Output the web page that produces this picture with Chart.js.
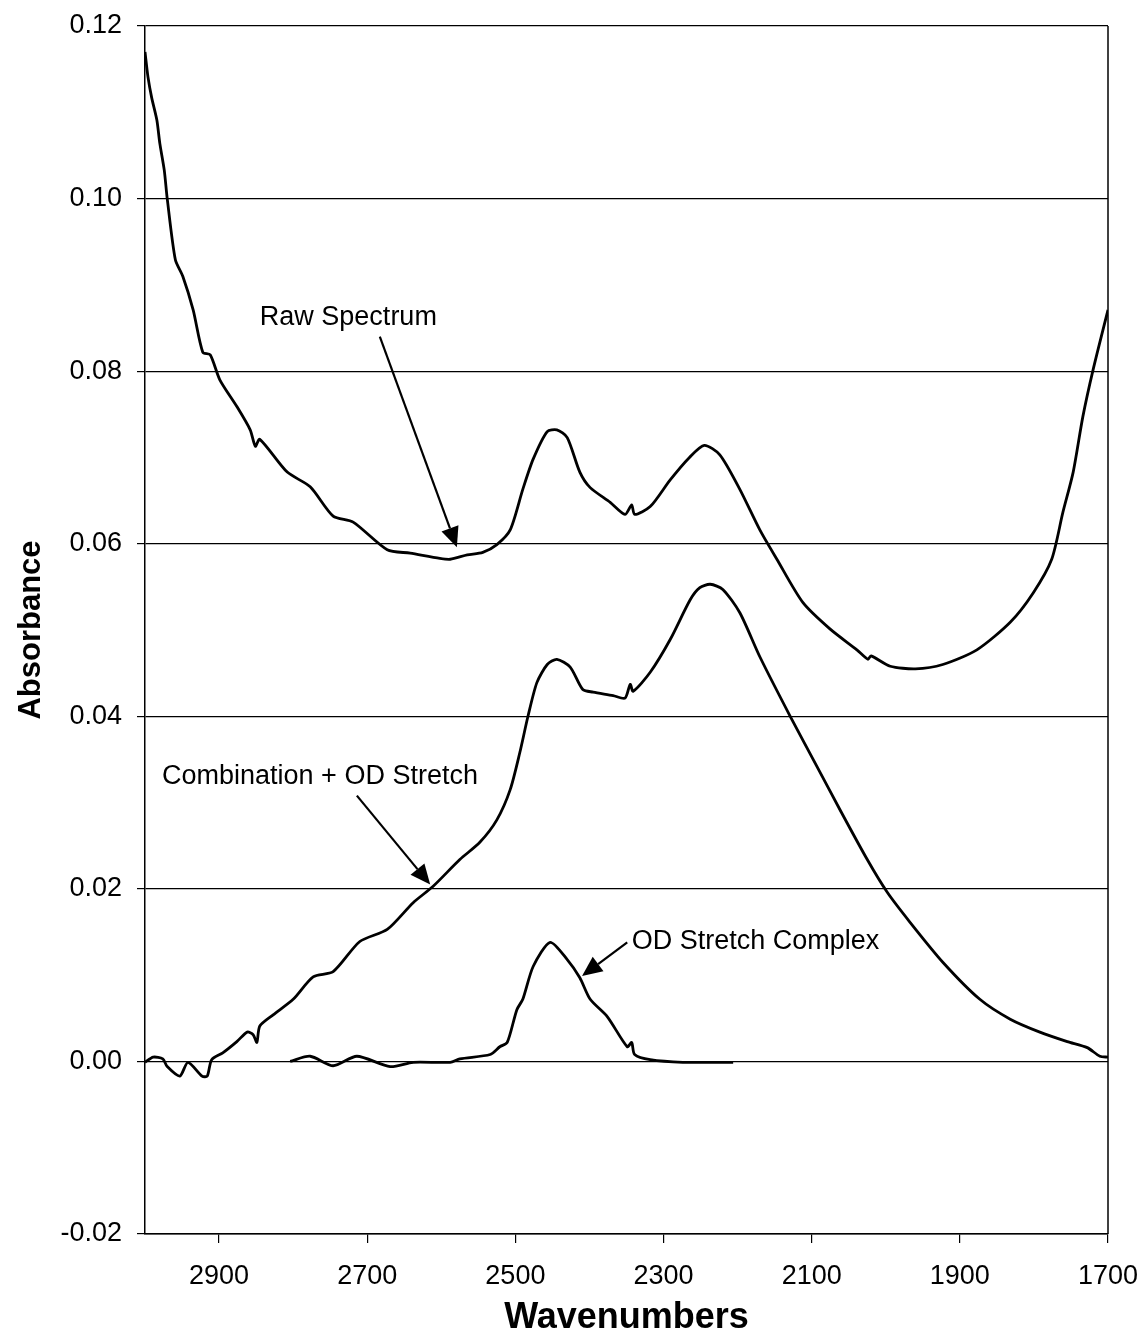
<!DOCTYPE html>
<html>
<head>
<meta charset="utf-8">
<script src="https://cdn.jsdelivr.net/npm/chart.js@4.4.1/dist/chart.umd.min.js"></script>
<style>
  html, body { margin: 0; padding: 0; background: #fff; }
  canvas { display: block; }
</style>
</head>
<body>
<canvas id="chart1" width="1146" height="1340"></canvas>
<script>
// wavenumber ticks on the (reversed) x axis
const xTicks = [2900, 2700, 2500, 2300, 2100, 1900, 1700];

// raw spectrum
const rawWn = [3000, 2996, 2991, 2984, 2980, 2974, 2970, 2959, 2949, 2935,
               2922, 2912, 2899, 2876, 2858, 2851, 2845, 2808, 2777, 2746,
               2719, 2673, 2642, 2602, 2588, 2565, 2544, 2525, 2507, 2490,
               2476, 2457, 2444, 2430, 2413, 2399, 2372, 2352, 2343, 2339,
               2318, 2291, 2265, 2245, 2224, 2197, 2170, 2147, 2112, 2075,
               2039, 2024, 2020, 1994, 1960, 1923, 1877, 1832, 1801, 1776,
               1761, 1747, 1734, 1720, 1700];
const rawAbs = [0.1170, 0.1141, 0.1117, 0.1091, 0.1064, 0.1033, 0.1000, 0.0929, 0.0910, 0.0871,
                0.0822, 0.0819, 0.0790, 0.0759, 0.0732, 0.0713, 0.0721, 0.0683, 0.0666, 0.0632,
                0.0625, 0.0593, 0.0589, 0.0583, 0.0582, 0.0587, 0.0590, 0.0599, 0.0616, 0.0663,
                0.0698, 0.0730, 0.0732, 0.0723, 0.0683, 0.0665, 0.0648, 0.0634, 0.0645, 0.0634,
                0.0643, 0.0674, 0.0700, 0.0714, 0.0703, 0.0663, 0.0616, 0.0582, 0.0532, 0.0501,
                0.0477, 0.0466, 0.0470, 0.0458, 0.0455, 0.0460, 0.0477, 0.0509, 0.0543, 0.0582,
                0.0636, 0.0683, 0.0747, 0.0802, 0.0871];

// combination + OD stretch
const combWn = [3000, 2989, 2976, 2970, 2953, 2942, 2923, 2916, 2910, 2895,
                2876, 2862, 2854, 2849, 2845, 2827, 2800, 2773, 2746, 2710,
                2673, 2638, 2611, 2575, 2548, 2525, 2507, 2494, 2483, 2471,
                2457, 2444, 2426, 2409, 2395, 2368, 2352, 2345, 2341, 2318,
                2291, 2264, 2251, 2237, 2220, 2197, 2170, 2129, 2093, 2062,
                2025, 1998, 1967, 1923, 1873, 1832, 1792, 1755, 1728, 1711,
                1700];
const combAbs = [-0.0001, 0.0005, 0.0003, -0.0006, -0.0017, -0.0001, -0.0017, -0.0017, 0.0002, 0.0010,
                 0.0023, 0.0034, 0.0031, 0.0022, 0.0041, 0.0054, 0.0072, 0.0098, 0.0104, 0.0139,
                 0.0153, 0.0184, 0.0203, 0.0234, 0.0254, 0.0280, 0.0315, 0.0358, 0.0400, 0.0439,
                 0.0460, 0.0466, 0.0457, 0.0431, 0.0428, 0.0424, 0.0421, 0.0437, 0.0429, 0.0451,
                 0.0489, 0.0535, 0.0549, 0.0553, 0.0547, 0.0520, 0.0469, 0.0400, 0.0342, 0.0292,
                 0.0234, 0.0196, 0.0161, 0.0115, 0.0072, 0.0049, 0.0034, 0.0023, 0.0016, 0.0006,
                 0.0005];

// OD stretch complex
const odWn = [2804, 2777, 2746, 2714, 2669, 2638, 2588, 2575, 2534, 2521,
              2511, 2498, 2490, 2476, 2453, 2430, 2413, 2399, 2376, 2349,
              2343, 2339, 2318, 2274, 2206];
const odAbs = [0.0000, 0.0006, -0.0005, 0.0006, -0.0006, -0.0001, -0.0001, 0.0003, 0.0008, 0.0017,
               0.0022, 0.0060, 0.0072, 0.0110, 0.0138, 0.0118, 0.0097, 0.0072, 0.0052, 0.0017,
               0.0022, 0.0008, 0.0002, -0.0001, -0.0001];

// annotations: label text, where the label starts, arrow start and arrow tip (wavenumber, absorbance)
const noteText = ['Raw Spectrum', 'Combination + OD Stretch', 'OD Stretch Complex'];
const noteAt   = [[2845, 0.0862], [2977, 0.0330], [2343, 0.0139]];
const noteFrom = [[2683, 0.0840], [2714, 0.0308], [2349, 0.0138]];
const noteTo   = [[2579, 0.0596], [2615, 0.0205], [2410, 0.0099]];

function pairs(xs, ys) {
    return xs.map((x, i) => ({x: x, y: ys[i]}));
}

const FONT = "'Liberation Sans', Arial, sans-serif";

const frame_plugin = {
    id: 'frame',
    beforeDatasetsDraw(chart) {
        const ctx = chart.ctx, a = chart.chartArea;
        ctx.save();
        ctx.strokeStyle = '#000';
        ctx.lineWidth = 1.5;
        ctx.beginPath();
        ctx.moveTo(a.right, a.top);
        ctx.lineTo(a.right, a.bottom);
        ctx.stroke();
        ctx.restore();
    }
};

const notes_plugin = {
    id: 'notes',
    afterDatasetsDraw(chart) {
        const ctx = chart.ctx, sx = chart.scales.x, sy = chart.scales.y;
        ctx.save();
        ctx.fillStyle = '#000';
        ctx.strokeStyle = '#000';
        ctx.font = '27px ' + FONT;
        ctx.textAlign = 'left';
        ctx.textBaseline = 'middle';
        for (let i = 0; i < noteText.length; i++) {
            ctx.fillText(noteText[i], sx.getPixelForValue(noteAt[i][0]), sy.getPixelForValue(noteAt[i][1]));
            const x0 = sx.getPixelForValue(noteFrom[i][0]), y0 = sy.getPixelForValue(noteFrom[i][1]);
            const x1 = sx.getPixelForValue(noteTo[i][0]), y1 = sy.getPixelForValue(noteTo[i][1]);
            const ang = Math.atan2(y1 - y0, x1 - x0);
            const len = 20, half = 9;
            const bx = x1 - len * Math.cos(ang), by = y1 - len * Math.sin(ang);
            ctx.lineWidth = 2.2;
            ctx.beginPath();
            ctx.moveTo(x0, y0);
            ctx.lineTo(bx, by);
            ctx.stroke();
            ctx.beginPath();
            ctx.moveTo(x1, y1);
            ctx.lineTo(bx + half * Math.sin(ang), by - half * Math.cos(ang));
            ctx.lineTo(bx - half * Math.sin(ang), by + half * Math.cos(ang));
            ctx.closePath();
            ctx.fill();
        }
        ctx.restore();
    }
};

const line_style = {
    borderColor: '#000',
    borderWidth: 2.8,
    pointRadius: 0,
    tension: 0.25,
    fill: false
};

const chart1_cfg = {
    type: 'line',
    data: {
        datasets: [
            Object.assign({label: 'Raw Spectrum', data: pairs(rawWn, rawAbs)}, line_style),
            Object.assign({label: 'Combination + OD Stretch', data: pairs(combWn, combAbs)}, line_style),
            Object.assign({label: 'OD Stretch Complex', data: pairs(odWn, odAbs)}, line_style)
        ]
    },
    options: {
        responsive: false,
        animation: false,
        devicePixelRatio: 1,
        layout: {
            padding: {top: 26, right: 38, bottom: 0, left: 0}
        },
        plugins: {
            legend: {display: false},
            tooltip: {enabled: false}
        },
        scales: {
            x: {
                type: 'linear',
                reverse: true,
                min: 1700,
                max: 3000,
                afterBuildTicks: function(scale) {
                    scale.ticks = xTicks.map(v => ({value: v}));
                },
                afterFit: function(scale) {
                    scale.height = 106;
                    scale.paddingLeft = 0;
                    scale.paddingRight = 0;
                },
                grid: {
                    drawOnChartArea: false,
                    drawTicks: true,
                    tickLength: 9,
                    color: '#000',
                    lineWidth: 1.2
                },
                border: {display: true, color: '#000', width: 1.5},
                ticks: {
                    color: '#000',
                    padding: 17,
                    maxRotation: 0,
                    font: {family: FONT, size: 27},
                    callback: v => String(v)
                },
                title: {
                    display: true,
                    text: 'Wavenumbers',
                    color: '#000',
                    font: {family: FONT, size: 36, weight: 'bold'},
                    padding: {top: 0, bottom: 0}
                }
            },
            y: {
                min: -0.02,
                max: 0.12,
                afterFit: function(scale) {
                    scale.width = 145;
                    scale.paddingTop = 0;
                    scale.paddingBottom = 0;
                },
                grid: {
                    color: '#000',
                    lineWidth: 1.2,
                    tickLength: 8
                },
                border: {display: true, color: '#000', width: 1.5},
                ticks: {
                    stepSize: 0.02,
                    color: '#000',
                    padding: 15,
                    font: {family: FONT, size: 27},
                    callback: v => (Math.abs(v) < 1e-9 ? 0 : v).toFixed(2)
                },
                title: {
                    display: true,
                    text: 'Absorbance',
                    color: '#000',
                    font: {family: FONT, size: 31, weight: 'bold'},
                    padding: {top: 13, bottom: 0}
                }
            }
        }
    },
    plugins: [frame_plugin, notes_plugin]
};

const chart1_ctx = document.getElementById('chart1').getContext('2d');
let chart1 = new Chart(chart1_ctx, chart1_cfg);
</script>
</body>
</html>
